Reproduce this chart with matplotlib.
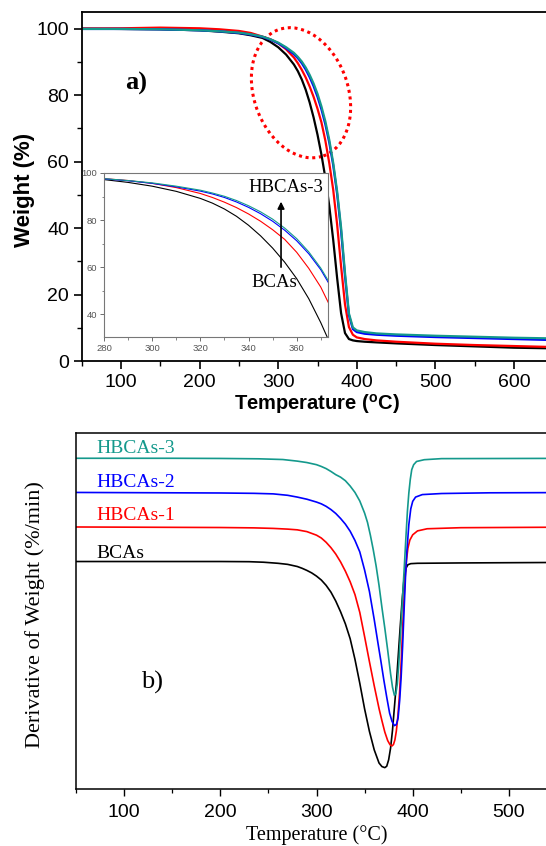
import matplotlib
matplotlib.use("Agg")
import matplotlib.pyplot as plt
from matplotlib.patches import Ellipse
from matplotlib.transforms import ScaledTranslation
from matplotlib.ticker import MultipleLocator

plt.rcParams['font.family'] = ['Liberation Sans', 'DejaVu Sans']
plt.rcParams['mathtext.fontset'] = 'custom'
plt.rcParams['mathtext.rm'] = 'Liberation Sans'
plt.rcParams['mathtext.bf'] = 'Liberation Sans:bold'

# ---------------- data: TGA (panel a) ----------------
tga_T = [50, 100, 150, 200, 225, 250, 265, 280, 290, 300, 310, 320, 325, 330, 335,
         340, 345, 350, 355, 360, 365, 370, 375, 380, 385, 390, 395, 400, 410, 425,
         450, 500, 550, 600, 650, 700]
tga_bcas = [100.0, 99.9, 99.8, 99.5, 99.1, 98.6, 98.0, 97.2, 96.0, 94.4, 92.2, 89.2, 87.2, 84.7, 81.6,
            77.8, 73.3, 68.1, 62.1, 55.1, 46.6, 36.4, 24.9, 14.4, 8.4, 6.6, 6.2, 6.0, 5.8, 5.6,
            5.3, 4.8, 4.4, 4.0, 3.8, 3.6]
tga_h1 = [100.0, 100.1, 100.3, 100.1, 99.8, 99.3, 98.7, 97.6, 96.8, 95.6, 93.8, 91.3, 89.6, 87.6, 85.3,
          82.6, 79.5, 75.9, 71.8, 66.3, 59.5, 51.5, 41.0, 28.5, 17.0, 10.2, 7.9, 7.1, 6.6, 6.2,
          5.8, 5.2, 4.8, 4.5, 4.2, 4.0]
tga_h2 = [99.9, 99.9, 99.8, 99.5, 99.2, 98.7, 98.2, 97.5, 96.7, 95.6, 94.1, 92.3, 91.1, 89.6, 87.7,
          85.4, 82.7, 79.5, 75.7, 71.2, 65.7, 58.9, 50.2, 39.2, 25.5, 13.8, 9.6, 8.7, 8.2, 7.9,
          7.6, 7.2, 6.9, 6.6, 6.3, 6.1]
tga_h3 = [99.9, 99.9, 99.8, 99.5, 99.2, 98.8, 98.3, 97.6, 96.8, 95.8, 94.4, 92.7, 91.5, 90.1, 88.3,
          86.1, 83.5, 80.4, 76.6, 72.1, 66.5, 59.6, 51.0, 40.2, 26.5, 14.3, 10.1, 9.2, 8.7, 8.3,
          8.0, 7.6, 7.3, 7.0, 6.8, 6.6]

# ---------------- data: DTG (panel b, stacked, arbitrary units) ----------------
dtg0_T = [50, 150, 200, 230, 245, 260, 270, 280, 285, 290, 295, 300, 305, 310, 315, 320, 325, 330,
          335, 340, 345, 350, 355, 360, 365, 368, 371, 373, 375, 377, 379, 381, 383, 385,
          387, 389, 391, 393, 395, 398, 405, 450, 600]
dtg0_v = [63.9, 63.9, 63.9, 63.85, 63.7, 63.4, 63.1, 62.5, 62.0, 61.4, 60.7, 59.8, 58.7, 57.2, 55.3, 52.8, 49.8, 46.4,
          42.2, 36.4, 29.7, 22.5, 16.2, 11.0, 7.3, 6.3, 6.0, 6.4, 8.2, 11.5, 16.5, 23.0, 29.5, 37.5,
          45.5, 53.0, 59.0, 62.0, 63.0, 63.3, 63.4, 63.5, 63.7]

dtg1_T = [50, 150, 200, 235, 255, 270, 280, 290, 300, 305, 310, 315, 320, 325, 330, 335, 340, 345,
          350, 355, 360, 365, 368, 371, 374, 376.5, 378.5, 380, 381.5, 383, 384.5, 386, 387.5,
          389, 390.5, 392, 393.5, 395, 397, 400, 405, 415, 450, 600]
dtg1_v = [73.6, 73.5, 73.45, 73.35, 73.2, 73.0, 72.8, 72.3, 71.3, 70.5, 69.3, 67.8, 66.0, 63.8, 61.2, 58.2, 54.6, 49.6,
          42.8, 35.8, 29.0, 22.6, 19.2, 16.0, 13.6, 12.4, 12.1, 12.5, 13.8, 16.3, 20.2, 25.5, 32.5,
          41.5, 51.0, 59.0, 64.2, 67.6, 69.9, 71.4, 72.5, 73.1, 73.4, 73.6]

dtg2_T = [50, 150, 200, 235, 255, 270, 280, 290, 300, 305, 310, 315, 320, 325, 330, 335, 340, 345,
          350, 355, 360, 364, 367, 370, 373, 376, 378.5, 381, 383, 384.8, 386.5, 388, 389.5,
          391, 392.5, 394, 396, 398, 400, 403, 410, 430, 480, 600]
dtg2_v = [83.3, 83.2, 83.15, 83.05, 82.9, 82.5, 82.0, 81.4, 80.6, 80.1, 79.4, 78.5, 77.4, 76.0, 74.4, 72.4, 69.8, 66.6,
          61.5, 55.5, 47.6, 40.8, 35.8, 30.6, 25.8, 21.3, 19.0, 17.8, 18.1, 19.9, 25.0, 31.5, 40.0,
          50.0, 59.5, 67.0, 74.3, 78.7, 80.8, 82.0, 82.7, 83.0, 83.2, 83.3]

dtg3_T = [50, 150, 200, 240, 265, 280, 290, 300, 305, 310, 315, 320, 325, 330, 335, 340, 345, 350,
          353, 356, 359, 362, 365, 368, 371, 374, 377, 379, 381, 382.5, 384, 385.5, 387, 388.5,
          390, 391.5, 393, 394.5, 396, 397.5, 399, 401, 404, 412, 430, 600]
dtg3_v = [92.9, 92.9, 92.85, 92.75, 92.55, 92.1, 91.7, 91.1, 90.6, 90.0, 89.2, 88.3, 87.6, 86.6, 85.1, 83.3, 80.9, 77.5,
          74.9, 71.3, 67.2, 62.6, 57.2, 51.0, 45.2, 39.0, 32.4, 28.6, 26.3, 26.8, 29.5, 35.0, 42.0, 49.0,
          56.5, 63.5, 71.0, 78.0, 83.2, 87.0, 89.7, 91.1, 92.0, 92.5, 92.8, 92.9]

names = ['BCAs', 'HBCAs-1', 'HBCAs-2', 'HBCAs-3']
colors = ['#000000', '#ff0000', '#0000ff', '#14998c']
x_ticks_a = [100, 200, 300, 400, 500, 600]
y_ticks_a = [0, 20, 40, 60, 80, 100]
x_ticks_in = [280, 300, 320, 340, 360]
y_ticks_in = [40, 60, 80, 100]
x_ticks_b = [100, 200, 300, 400, 500]

W, H = 546, 846
fig = plt.figure(figsize=(W / 100, H / 100), dpi=100)

# ---------------- panel a ----------------
ax1 = fig.add_axes([81.7 / W, 1 - 361 / H, 650 * 0.786 / W, 349 / H])
tga = [tga_bcas, tga_h1, tga_h2, tga_h3]
for vals, c in zip(tga, colors):
    ax1.plot(tga_T, vals, color=c, lw=1.6)
ax1.set_xlim(50, 700)
ax1.set_ylim(0, 105)
ax1.set_xticks(x_ticks_a)
ax1.set_yticks(y_ticks_a)
ax1.xaxis.set_minor_locator(MultipleLocator(50))
ax1.yaxis.set_minor_locator(MultipleLocator(10))
ax1.tick_params(which='major', direction='out', length=6, width=1.2, labelsize=14, pad=3)
ax1.tick_params(which='minor', direction='out', length=3.5, width=1.0)
for s in ax1.spines.values():
    s.set_linewidth(1.3)
ax1.set_xlabel(r'Temperature ($^\mathregular{o}$C)', fontsize=14.5, fontweight='bold')
ax1.xaxis.label.set_va('center')
ax1.xaxis.set_label_coords(0.4606, -0.122)
ax1.set_ylabel('Weight (%)', fontsize=16, fontweight='bold')
ax1.yaxis.label.set_va('center')
ax1.yaxis.set_label_coords(-0.112, 0.49)
ax1.text(119, 83.5, 'a)', fontsize=19, fontweight='bold', family='Liberation Serif',
         ha='center', va='center')

ell = Ellipse((0, 0), width=0.94, height=1.34, angle=19.5, fill=False,
              edgecolor='#ff0000', lw=2.2, linestyle=(0, (1, 1.2)),
              transform=fig.dpi_scale_trans + ScaledTranslation(329, 80.7, ax1.transData))
ax1.add_patch(ell)

# ---------------- inset ----------------
axi = fig.add_axes([104 / W, 1 - 337 / H, 224 / W, 164 / H])
axi.set_zorder(5)
axi.set_facecolor('white')
for vals, c in zip(tga, colors):
    axi.plot(tga_T, vals, color=c, lw=0.8)
axi.set_xlim(280, 373)
axi.set_ylim(30.3, 100)
axi.set_xticks(x_ticks_in)
axi.set_yticks(y_ticks_in)
axi.xaxis.set_minor_locator(MultipleLocator(10))
axi.yaxis.set_minor_locator(MultipleLocator(10))
axi.tick_params(which='major', direction='out', length=3, width=0.6, labelsize=6.8,
                colors='#555555', pad=2)
axi.tick_params(which='minor', direction='out', length=1.8, width=0.5, colors='#555555')
for s in axi.spines.values():
    s.set_linewidth(0.8)
    s.set_color('#777777')
axi.annotate('', xy=(353.5, 89.0), xytext=(353.5, 58.8),
             arrowprops=dict(arrowstyle='-|>', color='black', lw=1.2, mutation_scale=10))
axi.text(355.5, 93.8, 'HBCAs-3', family='Liberation Serif', fontsize=13.5,
         ha='center', va='center')
axi.text(350.9, 53.5, 'BCAs', family='Liberation Serif', fontsize=13.5,
         ha='center', va='center')

# ---------------- panel b ----------------
ax2 = fig.add_axes([76 / W, 1 - 789 / H, 550 * 0.962 / W, 356 / H])
dtg = [(dtg0_T, dtg0_v), (dtg1_T, dtg1_v), (dtg2_T, dtg2_v), (dtg3_T, dtg3_v)]
for (t, v), c in zip(dtg, colors):
    ax2.plot(t, v, color=c, lw=1.2)
ax2.set_xlim(50, 600)
ax2.set_ylim(0, 100)
ax2.set_xticks(x_ticks_b)
ax2.set_yticks([])
ax2.xaxis.set_minor_locator(MultipleLocator(50))
ax2.tick_params(which='major', direction='out', length=5, width=1.0, labelsize=14, pad=6)
ax2.tick_params(which='minor', direction='out', length=3, width=0.9)
for s in ax2.spines.values():
    s.set_linewidth(1.1)
ax2.set_xlabel('Temperature (\u00b0C)', family='Liberation Serif', fontsize=14.5)
ax2.xaxis.label.set_va('center')
ax2.xaxis.set_label_coords(0.4545, -0.13)
ax2.set_ylabel('Derivative of Weight (%/min)', family='Liberation Serif', fontsize=16)
ax2.yaxis.label.set_va('center')
ax2.yaxis.set_label_coords(-0.078, 0.49)
label_y = [66.1, 76.7, 86.1, 95.7]
for name, c, ly in zip(names, colors, label_y):
    ax2.text(71, ly, name, color=c, family='Liberation Serif', fontsize=14,
             ha='left', va='center')
ax2.text(129, 29.8, 'b)', family='Liberation Serif', fontsize=19, ha='center', va='center')

fig.savefig('out.png', dpi=100)
